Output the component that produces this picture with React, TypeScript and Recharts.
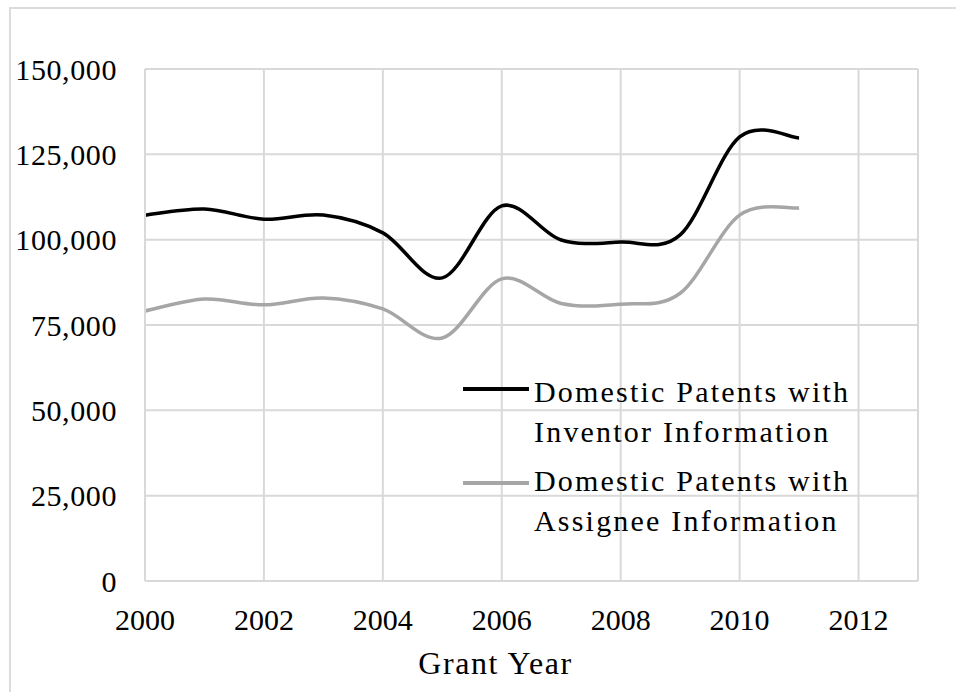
import React from "react";
import { LineChart, Line, XAxis, YAxis, CartesianGrid, Legend, Label } from "recharts";

const years = [2000, 2001, 2002, 2003, 2004, 2005, 2006, 2007, 2008, 2009, 2010, 2011];
const inventorInfo = [107200, 109000, 106000, 107200, 102000, 88800, 109900, 99900, 99300, 101400, 130100, 129800];
const assigneeInfo = [79100, 82600, 80900, 82900, 79700, 71200, 88500, 81300, 81100, 84300, 107200, 109300];
const xTicks = [2000, 2002, 2004, 2006, 2008, 2010, 2012];
const yTicks = [0, 25000, 50000, 75000, 100000, 125000, 150000];
const seriesNames = [
  "Domestic Patents with\nInventor Information",
  "Domestic Patents with\nAssignee Information",
];
const xTitle = "Grant Year";

const data = years.map((y, i) => ({ year: y, inventor: inventorInfo[i], assignee: assigneeInfo[i] }));

const FONT = "'Liberation Serif', 'Times New Roman', serif";

// Catmull-Rom style smoothing similar to Excel smoothed lines
function smoothCurve(context: any) {
  let pts: number[][] = [];
  return {
    areaStart() {},
    areaEnd() {},
    lineStart() {
      pts = [];
    },
    point(x: number, y: number) {
      pts.push([+x, +y]);
    },
    lineEnd() {
      if (!pts.length) return;
      context.moveTo(pts[0][0], pts[0][1]);
      for (let i = 0; i < pts.length - 1; i++) {
        const p0 = pts[i - 1] || pts[i];
        const p1 = pts[i];
        const p2 = pts[i + 1];
        const p3 = pts[i + 2] || pts[i + 1];
        const c1x = p1[0] + (p2[0] - p0[0]) / 6;
        const c1y = p1[1] + (p2[1] - p0[1]) / 6;
        const c2x = p2[0] - (p3[0] - p1[0]) / 6;
        const c2y = p2[1] - (p3[1] - p1[1]) / 6;
        context.bezierCurveTo(c1x, c1y, c2x, c2y, p2[0], p2[1]);
      }
    },
  };
}

const LegendContent = (props: any) => {
  const payload = props.payload || [];
  const ordered = seriesNames
    .map((n) => payload.find((p: any) => p.value === n))
    .filter(Boolean);
  return (
    <div style={{ position: "relative", width: 0, height: 0 }}>
      {ordered.map((entry: any, i: number) => {
        const lines = String(entry.value).split("\n");
        const top = 362 + i * 89;
        return (
          <div key={i} style={{ position: "absolute", left: 463, top, width: 460 }}>
            <div
              style={{
                position: "absolute",
                left: 0,
                top: i === 0 ? 25 : 30,
                width: 66,
                height: i === 0 ? 4 : 3.5,
                background: entry.color,
              }}
            />
            {lines.map((t: string, j: number) => (
              <div
                key={j}
                style={{
                  position: "absolute",
                  left: 71,
                  top: j * 40 + 6,
                  whiteSpace: "nowrap",
                  fontFamily: FONT,
                  fontSize: 30,
                  lineHeight: "48px",
                  letterSpacing: 2.2,
                  color: "#000",
                }}
              >
                {t}
              </div>
            ))}
          </div>
        );
      })}
    </div>
  );
};

export default function App() {
  return (
    <div style={{ position: "absolute", left: 0, top: 0, width: 956, height: 692, background: "#fff", overflow: "hidden" }}>
      <div
        style={{
          position: "absolute",
          left: 9,
          top: 7,
          width: 960,
          height: 700,
          borderLeft: "2px solid #dcdcdc",
          borderTop: "2px solid #dcdcdc",
        }}
      />
      <div style={{ position: "absolute", left: 0, top: 0 }}>
        <LineChart width={956} height={692} data={data} margin={{ top: 69, right: 38, left: 0, bottom: 0 }}>
          <CartesianGrid stroke="#d9d9d9" strokeWidth={2} />
          <XAxis
            dataKey="year"
            type="number"
            domain={[2000, 2013]}
            ticks={xTicks}
            height={111}
            tickSize={0}
            tickMargin={28}
            axisLine={{ stroke: "#d9d9d9", strokeWidth: 2 }}
            tick={{ fontFamily: FONT, fontSize: 30, fill: "#000" }}
            interval={0}
          >
            <Label
              value={xTitle}
              position="insideBottom"
              offset={18}
              dx={-36}
              style={{ fontFamily: FONT, fontSize: 32, fill: "#000", letterSpacing: 1.6 }}
            />
          </XAxis>
          <YAxis
            type="number"
            domain={[0, 150000]}
            ticks={yTicks}
            width={145}
            tickSize={0}
            tickMargin={28}
            axisLine={{ stroke: "#d9d9d9", strokeWidth: 2 }}
            tick={{ fontFamily: FONT, fontSize: 30, fill: "#000", letterSpacing: 0.6 }}
            tickFormatter={(v: number) => v.toLocaleString("en-US")}
            interval={0}
          />
          <Legend
            verticalAlign="top"
            content={<LegendContent />}
            wrapperStyle={{ left: 0, top: 0, width: 0, height: 0, overflow: "visible" }}
          />
          <Line
            dataKey="inventor"
            name={seriesNames[0]}
            type={smoothCurve as any}
            stroke="#000000"
            strokeWidth={3.5}
            dot={false}
            activeDot={false}
            isAnimationActive={false}
          />
          <Line
            dataKey="assignee"
            name={seriesNames[1]}
            type={smoothCurve as any}
            stroke="#a6a6a6"
            strokeWidth={3.5}
            dot={false}
            activeDot={false}
            isAnimationActive={false}
          />
        </LineChart>
      </div>
    </div>
  );
}
